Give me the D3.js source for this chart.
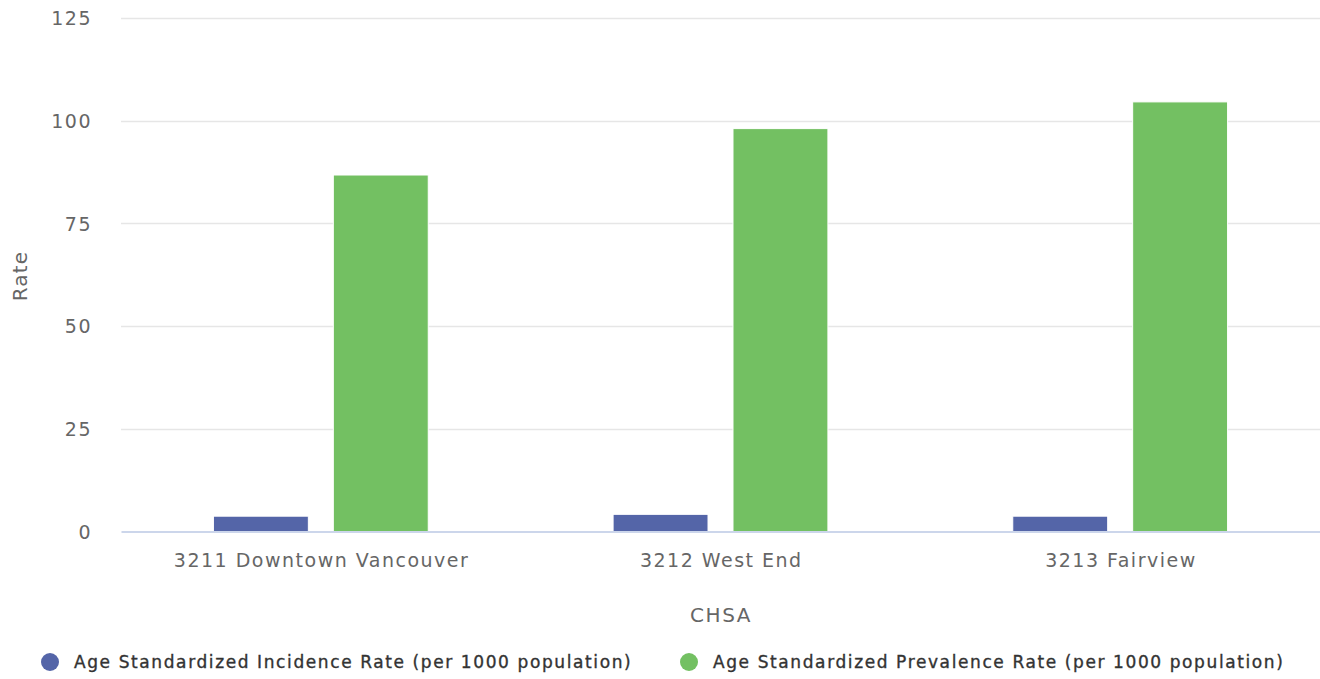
<!DOCTYPE html>
<html>
<head>
<meta charset="utf-8">
<script src="https://cdn.jsdelivr.net/npm/d3@7"></script>
<style>
  html, body { margin: 0; padding: 0; background: #fff; }
  svg { display: block; }
  text { font-family: "DejaVu Sans", Verdana, sans-serif; }
</style>
</head>
<body>
<svg id="chart" width="1320" height="679"></svg>
<script>
const categories = ["3211 Downtown Vancouver", "3212 West End", "3213 Fairview"];
const seriesNames = ["Age Standardized Incidence Rate (per 1000 population)", "Age Standardized Prevalence Rate (per 1000 population)"];
const incidence = [3.85, 4.3, 3.85];
const prevalence = [86.9, 98.2, 104.7];
const yTicks = [0, 25, 50, 75, 100, 125];
const colors = ["#5465a8", "#73c062"];

const svg = d3.select("#chart");
const margin = { left: 121, right: 1320, top: 18, bottom: 531.5 };

const x0 = d3.scaleBand().domain(categories).range([margin.left, margin.right]).paddingInner(0).paddingOuter(0);
const bw = x0.bandwidth();
const x1 = d3.scaleBand().domain(seriesNames).range([bw * 0.2, bw * 0.8]).paddingInner(0.2).paddingOuter(0.1);
const y = d3.scaleLinear().domain([0, 125]).range([margin.bottom, margin.top]);

// gridlines
const grid = svg.append("g");
grid.selectAll("line").data(yTicks.filter(d => d > 0)).join("line")
  .attr("x1", margin.left).attr("x2", margin.right)
  .attr("y1", d => Math.round(y(d)) + 0.5).attr("y2", d => Math.round(y(d)) + 0.5)
  .attr("stroke", "#e6e6e6").attr("stroke-width", 1.5);

// y axis labels
const yAxis = d3.axisLeft(y).tickValues(yTicks).tickSize(0).tickPadding(0);
const yg = svg.append("g").attr("transform", "translate(92,0)").call(yAxis);
yg.select(".domain").remove();
yg.selectAll("text").attr("font-size", 19).attr("fill", "#666").attr("letter-spacing", 1.5)
  .style("font-family", "'DejaVu Sans', sans-serif").attr("dy", "0.36em");

// bars
const data = categories.map((c, i) => ({ cat: c, vals: [incidence[i], prevalence[i]] }));
const groups = svg.append("g").selectAll("g").data(data).join("g")
  .attr("transform", d => `translate(${x0(d.cat)},0)`);
groups.selectAll("rect").data(d => d.vals.map((v, j) => ({ name: seriesNames[j], v, j }))).join("rect")
  .attr("x", d => x1(d.name) + 0.5)
  .attr("width", x1.bandwidth() - 1)
  .attr("y", d => y(d.v) + 0.5)
  .attr("height", d => y(0) - y(d.v) - 0.5)
  .attr("fill", d => colors[d.j])
  .attr("stroke", "#fff").attr("stroke-width", 1);

// x axis
const xAxis = d3.axisBottom(x0).tickSize(0).tickPadding(0);
const xg = svg.append("g").attr("transform", `translate(0,${margin.bottom})`).call(xAxis);
xg.select(".domain").attr("stroke", "#ccd6eb").attr("stroke-width", 2);
xg.selectAll("text").attr("font-size", 19).attr("fill", "#666").attr("letter-spacing", 1.5)
  .attr("y", 35.5).attr("dy", 0).attr("dx", 0.75).style("font-family", "'DejaVu Sans', sans-serif");

// axis titles
svg.append("text").attr("transform", "translate(27,276) rotate(-90)")
  .attr("text-anchor", "middle").attr("font-size", 20).attr("fill", "#666")
  .attr("letter-spacing", 1.2).text("Rate");
svg.append("text").attr("x", 721).attr("y", 622)
  .attr("text-anchor", "middle").attr("font-size", 20).attr("fill", "#666")
  .attr("letter-spacing", 1.6).text("CHSA");

// legend
const legendX = [50, 689];
const lg = svg.append("g").selectAll("g").data(seriesNames).join("g")
  .attr("transform", (d, i) => `translate(${legendX[i]},662)`);
lg.append("circle").attr("r", 9).attr("fill", (d, i) => colors[i]);
lg.append("text").attr("x", 24).attr("y", 0).attr("dy", "0.35em")
  .attr("font-size", 17).attr("fill", "#333").attr("letter-spacing", 1.6)
  .attr("stroke", "#333").attr("stroke-width", 0.35)
  .text(d => d);
</script>
</body>
</html>
